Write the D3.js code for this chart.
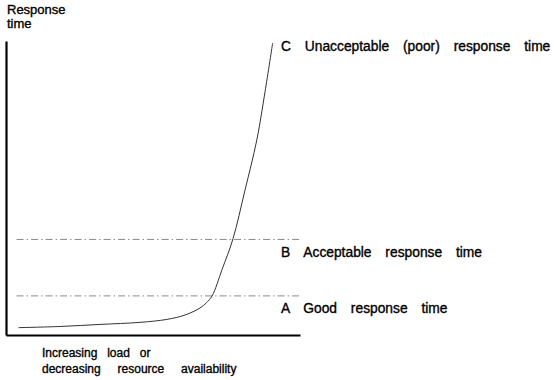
<!DOCTYPE html>
<html>
<head>
<meta charset="utf-8">
<script src="https://cdn.jsdelivr.net/npm/d3@7/dist/d3.min.js"></script>
<style>
  html, body { margin: 0; padding: 0; background: #fff; }
  svg { display: block; }
  text { font-family: "Liberation Sans", Arial, Helvetica, sans-serif; fill: #000; stroke: #000; stroke-width: 0.35px; }
</style>
</head>
<body>
<svg id="chart" width="554" height="380"></svg>
<script>
// ---- data (arbitrary units 0..100) ----
const curveX = [4.2, 18.4, 32, 45.6, 54.7, 60.9, 66, 68.2, 70.1, 73.5, 77.2, 81.3, 85.3, 88.1, 90.7];
const curveY = [2.5, 2.9, 3.6, 4.3, 5.3, 6.8, 9.2, 11.0, 13.3, 22.3, 32.7, 49.3, 66.3, 82.7, 99.3];
const refLevels = [13.3, 32.5];          // A (good), B (acceptable)
const refStart = 3.6, refEnd = 100;
const levelLabels = ["A Good response time", "B Acceptable response time", "C Unacceptable (poor) response time"];
const yTitle = ["Response", "time"];
const xTitle = ["Increasing load or", "decreasing resource availability"];

const svg = d3.select("#chart");
const x = d3.scaleLinear().domain([0, 100]).range([6, 300]);
const y = d3.scaleLinear().domain([0, 100]).range([335, 41]);

// reference dash-dot lines
svg.selectAll("line.ref").data(refLevels).enter().append("line")
  .attr("class", "ref")
  .attr("x1", x(refStart)).attr("x2", x(refEnd))
  .attr("y1", d => y(d)).attr("y2", d => y(d))
  .attr("stroke", "#8a8a8a").attr("stroke-width", 1)
  .attr("stroke-dasharray", "7,3,1.5,3");

// curve
const pts = curveX.map((v, i) => [v, curveY[i]]);
svg.append("path").datum(pts)
  .attr("fill", "none").attr("stroke", "#333").attr("stroke-width", 1)
  .attr("d", d3.line().x(d => x(d[0])).y(d => y(d[1])).curve(d3.curveCatmullRom.alpha(0.5)));

// axes (no ticks)
svg.append("g").attr("transform", `translate(0,${y(0)})`)
  .call(d3.axisBottom(x).tickValues([]).tickSizeOuter(0));
svg.append("g").attr("transform", `translate(${x(0)},0)`)
  .call(d3.axisLeft(y).tickValues([]).tickSizeOuter(0));
svg.selectAll(".domain").attr("stroke", "#000").attr("stroke-width", 2.2);

// level labels
const labelY = [313, 257, 51];
svg.selectAll("text.lvl").data(levelLabels).enter().append("text")
  .attr("class", "lvl")
  .attr("x", 281).attr("y", (d, i) => labelY[i])
  .attr("font-size", "13.8px")
  .attr("word-spacing", "10px")
  .text(d => d);

// y title
svg.selectAll("text.yt").data(yTitle).enter().append("text")
  .attr("class", "yt")
  .attr("x", 7).attr("y", (d, i) => 14 + i * 14)
  .attr("font-size", "13px")
  .text(d => d);

// x title
const xWS = [6.5, 13.5];
svg.selectAll("text.xt").data(xTitle).enter().append("text")
  .attr("class", "xt")
  .attr("x", 42).attr("y", (d, i) => 357 + i * 15.5)
  .attr("font-size", "12px")
  .attr("word-spacing", (d, i) => xWS[i] + "px")
  .text(d => d);
</script>
</body>
</html>
